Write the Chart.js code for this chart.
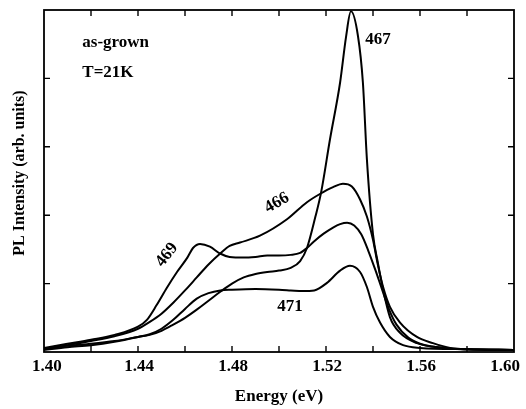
<!DOCTYPE html>
<html>
<head>
<meta charset="utf-8">
<script src="https://cdn.jsdelivr.net/npm/chart.js@4.4.1/dist/chart.umd.min.js"></script>
<style>
  html, body { margin: 0; padding: 0; background: #fff; }
  #wrap { width: 526px; height: 409px; }
</style>
</head>
<body>
<div id="wrap"><canvas id="c" width="526" height="409"></canvas></div>
<script>
// ---- data ----
const xTickValues = [1.40, 1.44, 1.48, 1.52, 1.56, 1.60];
const xTitle = 'Energy (eV)';
const yTitle = 'PL Intensity (arb. units)';

const energy466 = [1.40, 1.41, 1.42, 1.43, 1.44, 1.445, 1.45, 1.455, 1.46, 1.465, 1.47, 1.475, 1.479, 1.4834, 1.4919, 1.5034, 1.5119, 1.5174, 1.523, 1.5272, 1.5310, 1.5345, 1.5374, 1.540, 1.5421, 1.5443, 1.5472, 1.5515, 1.5587, 1.5655, 1.5728, 1.58, 1.60];
const intensity466 = [0.04, 0.10, 0.16, 0.23, 0.34, 0.44, 0.56, 0.72, 0.90, 1.09, 1.28, 1.44, 1.55, 1.60, 1.70, 1.94, 2.19, 2.31, 2.41, 2.46, 2.42, 2.23, 1.98, 1.64, 1.27, 0.95, 0.66, 0.43, 0.22, 0.13, 0.06, 0.04, 0.03];

const energy469 = [1.40, 1.41, 1.42, 1.43, 1.44, 1.4438, 1.448, 1.4523, 1.4566, 1.461, 1.4634, 1.4664, 1.4706, 1.4749, 1.479, 1.485, 1.49, 1.495, 1.50, 1.505, 1.509, 1.5119, 1.515, 1.519, 1.523, 1.526, 1.529, 1.532, 1.535, 1.538, 1.541, 1.544, 1.547, 1.55, 1.555, 1.56, 1.565, 1.57, 1.58, 1.60];
const intensity469 = [0.06, 0.12, 0.18, 0.25, 0.37, 0.47, 0.69, 0.94, 1.17, 1.38, 1.52, 1.58, 1.54, 1.44, 1.39, 1.38, 1.39, 1.41, 1.41, 1.42, 1.45, 1.52, 1.62, 1.73, 1.82, 1.87, 1.89, 1.85, 1.72, 1.48, 1.20, 0.90, 0.61, 0.40, 0.21, 0.12, 0.08, 0.06, 0.04, 0.03];

const energy467 = [1.40, 1.41, 1.42, 1.43, 1.44, 1.445, 1.45, 1.455, 1.46, 1.465, 1.47, 1.475, 1.48, 1.485, 1.49, 1.495, 1.50, 1.505, 1.509, 1.5119, 1.5155, 1.5179, 1.5217, 1.526, 1.5285, 1.5306, 1.5336, 1.5357, 1.5374, 1.540, 1.5421, 1.5443, 1.5472, 1.5515, 1.5587, 1.57, 1.58, 1.60];
const intensity467 = [0.04, 0.09, 0.12, 0.16, 0.22, 0.25, 0.31, 0.40, 0.50, 0.62, 0.75, 0.88, 1.00, 1.09, 1.14, 1.17, 1.19, 1.23, 1.33, 1.52, 1.98, 2.33, 3.11, 3.94, 4.60, 4.98, 4.62, 3.94, 2.82, 1.72, 1.30, 0.91, 0.51, 0.28, 0.13, 0.06, 0.04, 0.03];

const energy471 = [1.40, 1.41, 1.42, 1.43, 1.44, 1.445, 1.45, 1.455, 1.46, 1.465, 1.47, 1.475, 1.48, 1.49, 1.50, 1.505, 1.51, 1.515, 1.5204, 1.526, 1.5302, 1.5345, 1.5374, 1.540, 1.543, 1.5472, 1.5528, 1.56, 1.58, 1.60];
const intensity471 = [0.03, 0.07, 0.10, 0.15, 0.22, 0.26, 0.34, 0.47, 0.63, 0.78, 0.86, 0.90, 0.91, 0.92, 0.91, 0.90, 0.89, 0.90, 1.01, 1.19, 1.26, 1.17, 0.95, 0.66, 0.43, 0.22, 0.10, 0.06, 0.04, 0.03];

const seriesNames = ['466', '469', '467', '471'];

function pts(xs, ys) { return xs.map((x, i) => ({ x: x, y: ys[i] })); }

const FONT = '"Liberation Serif", "Times New Roman", serif';

const frameAndTicks = {
  id: 'frameAndTicks',
  afterDraw(chart) {
    const ctx = chart.ctx;
    const a = chart.chartArea;
    const xs = chart.scales.x, ys = chart.scales.y;
    ctx.save();
    ctx.strokeStyle = '#000';
    ctx.lineWidth = 1.8;
    ctx.strokeRect(a.left, a.top, a.right - a.left, a.bottom - a.top);
    ctx.lineWidth = 1.4;
    ctx.beginPath();
    xs.ticks.forEach(t => {
      const px = xs.getPixelForValue(t.value);
      if (px <= a.left + 1 || px >= a.right - 1) return;
      ctx.moveTo(px, a.bottom); ctx.lineTo(px, a.bottom - 6);
      ctx.moveTo(px, a.top); ctx.lineTo(px, a.top + 6);
    });
    ys.ticks.forEach(t => {
      const py = ys.getPixelForValue(t.value);
      if (py <= a.top + 1 || py >= a.bottom - 1) return;
      ctx.moveTo(a.left, py); ctx.lineTo(a.left + 6, py);
      ctx.moveTo(a.right, py); ctx.lineTo(a.right - 6, py);
    });
    ctx.stroke();

    ctx.fillStyle = '#000';
    ctx.textBaseline = 'middle';

    // x tick labels
    ctx.font = 'bold 17px ' + FONT;
    xTickValues.forEach((v, i) => {
      const px = xs.getPixelForValue(v);
      if (i === xTickValues.length - 1) { ctx.textAlign = 'right'; ctx.fillText(v.toFixed(2), px + 6, a.bottom + 15); }
      else if (i === 0) { ctx.textAlign = 'left'; ctx.fillText(v.toFixed(2), px - 12, a.bottom + 15); }
      else { ctx.textAlign = 'center'; ctx.fillText(v.toFixed(2), px + 1, a.bottom + 15); }
    });

    // axis titles
    ctx.font = 'bold 17px ' + FONT;
    ctx.textAlign = 'center';
    ctx.fillText(xTitle, (a.left + a.right) / 2, 397);
    ctx.save();
    ctx.translate(20, 173);
    ctx.rotate(-Math.PI / 2);
    ctx.font = 'bold 16px ' + FONT;
    ctx.fillText(yTitle, 0, 0);
    ctx.restore();

    // annotations
    ctx.font = 'bold 17px ' + FONT;
    ctx.textAlign = 'left';
    ctx.fillText('as-grown', xs.getPixelForValue(1.4163), ys.getPixelForValue(4.53));
    ctx.fillText('T=21K', xs.getPixelForValue(1.4163), ys.getPixelForValue(4.09));
    ctx.textAlign = 'center';
    ctx.fillText('467', xs.getPixelForValue(1.5421), ys.getPixelForValue(4.56));
    ctx.fillText('471', xs.getPixelForValue(1.5047), ys.getPixelForValue(0.66));
    const rot = (txt, ex, vy, ang) => {
      ctx.save();
      ctx.translate(xs.getPixelForValue(ex), ys.getPixelForValue(vy));
      ctx.rotate(ang * Math.PI / 180);
      ctx.fillText(txt, 0, 0);
      ctx.restore();
    };
    rot('466', 1.4991, 2.18, -30);
    rot('469', 1.4523, 1.42, -52);
    ctx.restore();
  }
};

const datasets = [
  pts(energy466, intensity466),
  pts(energy469, intensity469),
  pts(energy467, intensity467),
  pts(energy471, intensity471)
].map((d, i) => ({
  label: seriesNames[i],
  data: d,
  borderColor: '#000',
  borderWidth: 2,
  pointRadius: 0,
  fill: false,
  cubicInterpolationMode: 'monotone'
}));

new Chart(document.getElementById('c'), {
  type: 'line',
  data: { datasets: datasets },
  options: {
    responsive: false,
    animation: false,
    devicePixelRatio: 1,
    layout: { padding: { top: 10, right: 12, left: 0, bottom: 0 } },
    plugins: { legend: { display: false }, tooltip: { enabled: false } },
    scales: {
      x: {
        type: 'linear',
        min: 1.40, max: 1.60,
        afterFit(s) { s.height = 57; s.paddingLeft = 0; s.paddingRight = 0; },
        afterBuildTicks(s) {
          const t = [];
          for (let k = 0; k <= 10; k++) t.push({ value: 1.40 + k * 0.02 });
          s.ticks = t;
        },
        border: { display: false },
        grid: { display: false, drawTicks: false },
        ticks: { display: false },
        title: { display: false }
      },
      y: {
        min: 0, max: 5,
        afterFit(s) { s.width = 44; s.paddingTop = 0; s.paddingBottom = 0; },
        border: { display: false },
        grid: { display: false, drawTicks: false },
        ticks: { stepSize: 1, display: false },
        title: { display: false }
      }
    }
  },
  plugins: [frameAndTicks]
});
</script>
</body>
</html>
